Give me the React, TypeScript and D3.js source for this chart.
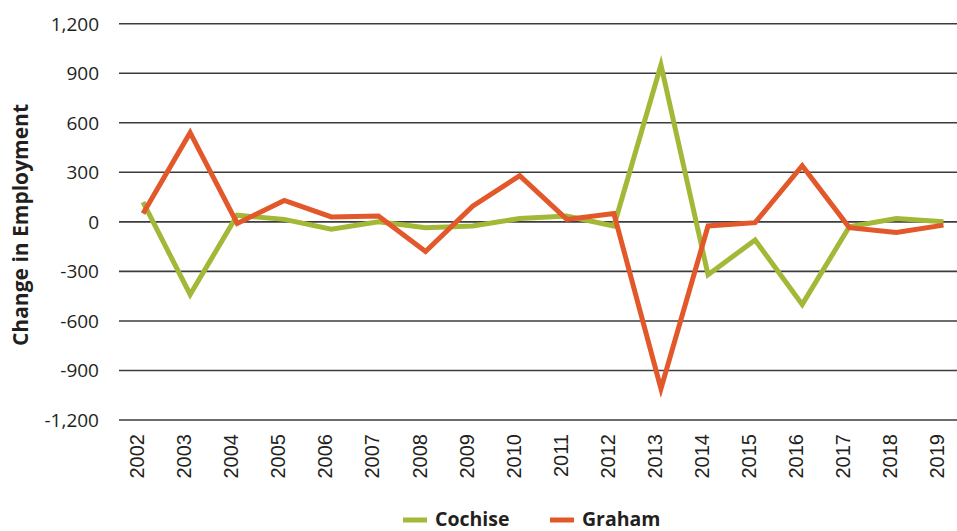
import React from "react";
import * as d3 from "d3";

const years = ["2002","2003","2004","2005","2006","2007","2008","2009","2010","2011","2012","2013","2014","2015","2016","2017","2018","2019"];
const cochise = [120, -440, 40, 15, -45, 0, -35, -25, 20, 35, -25, 950, -320, -110, -500, -30, 20, 0];
const graham = [50, 540, -10, 130, 30, 35, -180, 95, 280, 15, 50, -1010, -25, -5, 340, -35, -65, -20];
const yTicks = [-1200, -900, -600, -300, 0, 300, 600, 900, 1200];
const seriesNames = ["Cochise", "Graham"];
const seriesColors = ["#a4b838", "#e2582a"];

const W = 957;
const H = 531;

export default function App() {
  const x = d3.scaleBand<string>().domain(years).range([119.5, 967]).padding(0);
  const cx = (d: string) => (x(d) as number) + x.bandwidth() / 2;
  const y = d3.scaleLinear().domain([-1200, 1200]).range([420, 23.7]);
  const fmt = d3.format(",");
  const line = d3
    .line<number>()
    .x((_, i) => cx(years[i]))
    .y((v) => y(v));
  const series = [cochise, graham];
  const textColor = "#231f20";
  const legendX = [403, 550];
  const legendY = 519;

  return (
    <svg
      width={W}
      height={H}
      style={{ position: "absolute", left: 0, top: 0, background: "#fff" }}
    >
      {yTicks.map((t) => (
        <g key={t}>
          <line x1={119} x2={967} y1={y(t)} y2={y(t)} stroke="#3c3c3c" strokeWidth={1.6} />
          <text
            x={99}
            y={y(t)}
            dy="0.36em"
            textAnchor="end"
            fontFamily="'Open Sans', sans-serif"
            fontSize={19}
            fill={textColor}
          >
            {t < 0 ? "-" + fmt(-t) : fmt(t)}
          </text>
        </g>
      ))}
      {years.map((yr) => (
        <text
          key={yr}
          transform={`translate(${cx(yr) + 1},434) rotate(-90)`}
          textAnchor="end"
          fontFamily="'Liberation Sans', Arial, sans-serif"
          fontSize={20}
          fill={textColor}
        >
          {yr}
        </text>
      ))}
      <text
        transform={`translate(28,225) rotate(-90)`}
        textAnchor="middle"
        fontFamily="'Open Sans', sans-serif"
        fontWeight="bold"
        fontSize={21}
        fill={textColor}
      >
        Change in Employment
      </text>
      {series.map((s, i) => (
        <path
          key={seriesNames[i]}
          d={line(s) || ""}
          fill="none"
          stroke={seriesColors[i]}
          strokeWidth={5}
          strokeLinejoin="miter"
        />
      ))}
      {seriesNames.map((n, i) => (
        <g key={n}>
          <line
            x1={legendX[i]}
            x2={legendX[i] + 24}
            y1={legendY + 1}
            y2={legendY + 1}
            stroke={seriesColors[i]}
            strokeWidth={5}
          />
          <text
            x={legendX[i] + 32}
            y={legendY}
            dy="0.36em"
            fontFamily="'Open Sans', sans-serif"
            fontWeight="bold"
            fontSize={19.5}
            fill={textColor}
          >
            {n}
          </text>
        </g>
      ))}
    </svg>
  );
}
